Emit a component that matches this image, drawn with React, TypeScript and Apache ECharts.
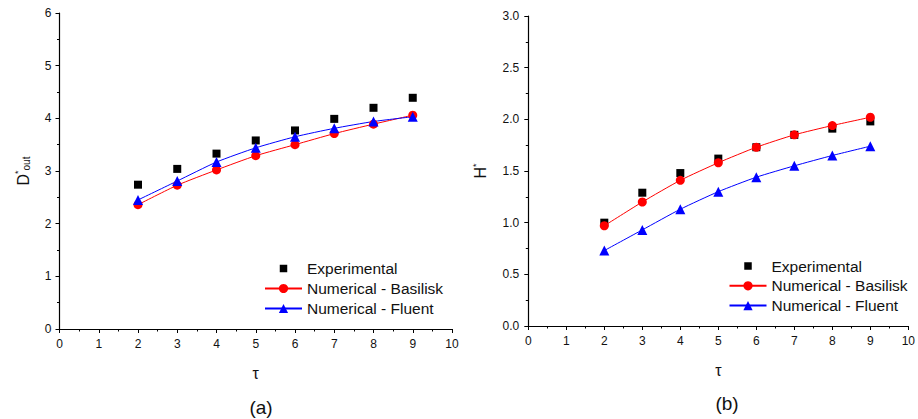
import React, { useEffect, useRef } from "react";
import * as echarts from "echarts";

const tau = [2, 3, 4, 5, 6, 7, 8, 9];
const dExperimental = [2.74, 3.04, 3.33, 3.58, 3.77, 3.99, 4.2, 4.39];
const dBasilisk = [2.36, 2.73, 3.02, 3.29, 3.5, 3.71, 3.89, 4.06];
const dFluent = [2.45, 2.81, 3.17, 3.44, 3.65, 3.81, 3.94, 4.03];
const hExperimental = [1.0, 1.29, 1.48, 1.62, 1.73, 1.85, 1.91, 1.98];
const hBasilisk = [0.97, 1.2, 1.41, 1.58, 1.73, 1.85, 1.94, 2.02];
const hFluent = [0.73, 0.93, 1.13, 1.3, 1.44, 1.55, 1.65, 1.74];
const seriesNames = ["Experimental", "Numerical - Basilisk", "Numerical - Fluent"];
const panelLabels = ["(a)", "(b)"];

const FONT = "'Liberation Sans', Arial, Helvetica, sans-serif";

const pair = (xs: number[], ys: number[]) => xs.map((x, i) => [x, ys[i]]);

export default function App() {
  const ref = useRef<HTMLDivElement>(null);
  useEffect(() => {
    document.body.style.margin = "0";
    if (!ref.current) return;
    const chart = echarts.init(ref.current, undefined, { renderer: "svg" });
    const axisCommon = {
      axisLine: { show: true, lineStyle: { color: "#000", width: 1.2 } },
      axisTick: { show: true, inside: false, length: 4, lineStyle: { color: "#000" } },
      minorTick: { show: true, splitNumber: 2, length: 2.5, lineStyle: { color: "#000" } },
      splitLine: { show: false },
      axisLabel: { color: "#111", fontSize: 12, fontFamily: FONT },
      nameTextStyle: { color: "#111", fontFamily: FONT },
    };
    const xAxisDef = (gridIndex: number) => ({
      ...axisCommon,
      type: "value",
      gridIndex,
      min: 0,
      max: 10,
      interval: 1,
      name: "τ",
      nameLocation: "middle",
      nameGap: 36,
      nameTextStyle: { color: "#111", fontFamily: FONT, fontSize: 16 },
      axisLabel: { ...axisCommon.axisLabel, margin: 9 },
    });
    const supRich = {
      b: { fontSize: 16, fontFamily: FONT, color: "#111" },
      sup: { fontSize: 9, fontFamily: FONT, color: "#111", padding: [0, 0, 10, 0] },
      sub: { fontSize: 10, fontFamily: FONT, color: "#111", padding: [7, 0, 0, 0] },
    };
    const lineSeries = (name: string, data: number[][], idx: number, color: string, symbol: string, size: number) => ({
      name,
      type: "line",
      xAxisIndex: idx,
      yAxisIndex: idx,
      data,
      symbol,
      symbolSize: size,
      lineStyle: { color, width: 1 },
      itemStyle: { color, opacity: 1 },
      smooth: 0.2,
    });
    const scatterSeries = (data: number[][], idx: number) => ({
      name: seriesNames[0],
      type: "scatter",
      xAxisIndex: idx,
      yAxisIndex: idx,
      data,
      symbol: "rect",
      symbolSize: 8,
      itemStyle: { color: "#000", opacity: 1 },
    });
    const squareIcon = "path://M0,0M37,11.5M14.75,2L22.25,2L22.25,9.5L14.75,9.5Z";
    const legendDef = (left: number, top: number, gap: number) => ({
      orient: "vertical",
      left,
      top,
      padding: 0,
      itemWidth: 37,
      itemHeight: 11.5,
      itemGap: gap,
      data: [
        { name: seriesNames[0], icon: squareIcon },
        { name: seriesNames[1] },
        { name: seriesNames[2] },
      ],
      textStyle: { fontSize: 15.5, fontFamily: FONT, color: "#111" },
      selectedMode: false,
    });
    chart.setOption({
      animation: false,
      backgroundColor: "#fff",
      grid: [
        { left: 59.5, top: 13, width: 392.5, height: 316 },
        { left: 528.3, top: 16, width: 383.7, height: 310 },
      ],
      xAxis: [xAxisDef(0), xAxisDef(1)],
      yAxis: [
        {
          ...axisCommon,
          type: "value",
          gridIndex: 0,
          min: 0,
          max: 6,
          interval: 1,
          name: "{b|D}{sup|*}{sub|out}",
          nameLocation: "middle",
          nameGap: 27,
          nameRotate: 90,
          nameTextStyle: { rich: supRich },
          axisLabel: { ...axisCommon.axisLabel, margin: 8 },
        },
        {
          ...axisCommon,
          type: "value",
          gridIndex: 1,
          min: 0,
          max: 3,
          interval: 0.5,
          name: "{b|H}{sup|*}",
          nameLocation: "middle",
          nameGap: 38,
          nameRotate: 90,
          nameTextStyle: { rich: supRich },
          axisLabel: { ...axisCommon.axisLabel, margin: 9, formatter: (v: number) => v.toFixed(1) },
        },
      ],
      legend: [legendDef(264, 260.5, 4), legendDef(728.5, 258, 3.8)],
      graphic: [
        { type: "text", x: 261, y: 407, style: { text: panelLabels[0], fontSize: 19, fontFamily: FONT, fill: "#111", align: "center", verticalAlign: "middle" } },
        { type: "text", x: 727, y: 403, style: { text: panelLabels[1], fontSize: 19, fontFamily: FONT, fill: "#111", align: "center", verticalAlign: "middle" } },
      ],
      series: [
        scatterSeries(pair(tau, dExperimental), 0),
        lineSeries(seriesNames[1], pair(tau, dBasilisk), 0, "#ff0000", "circle", 9),
        lineSeries(seriesNames[2], pair(tau, dFluent), 0, "#0000ff", "triangle", 10),
        scatterSeries(pair(tau, hExperimental), 1),
        lineSeries(seriesNames[1], pair(tau, hBasilisk), 1, "#ff0000", "circle", 9),
        lineSeries(seriesNames[2], pair(tau, hFluent), 1, "#0000ff", "triangle", 10),
      ],
    });
    return () => chart.dispose();
  }, []);
  return <div ref={ref} style={{ width: 918, height: 419 }} />;
}
